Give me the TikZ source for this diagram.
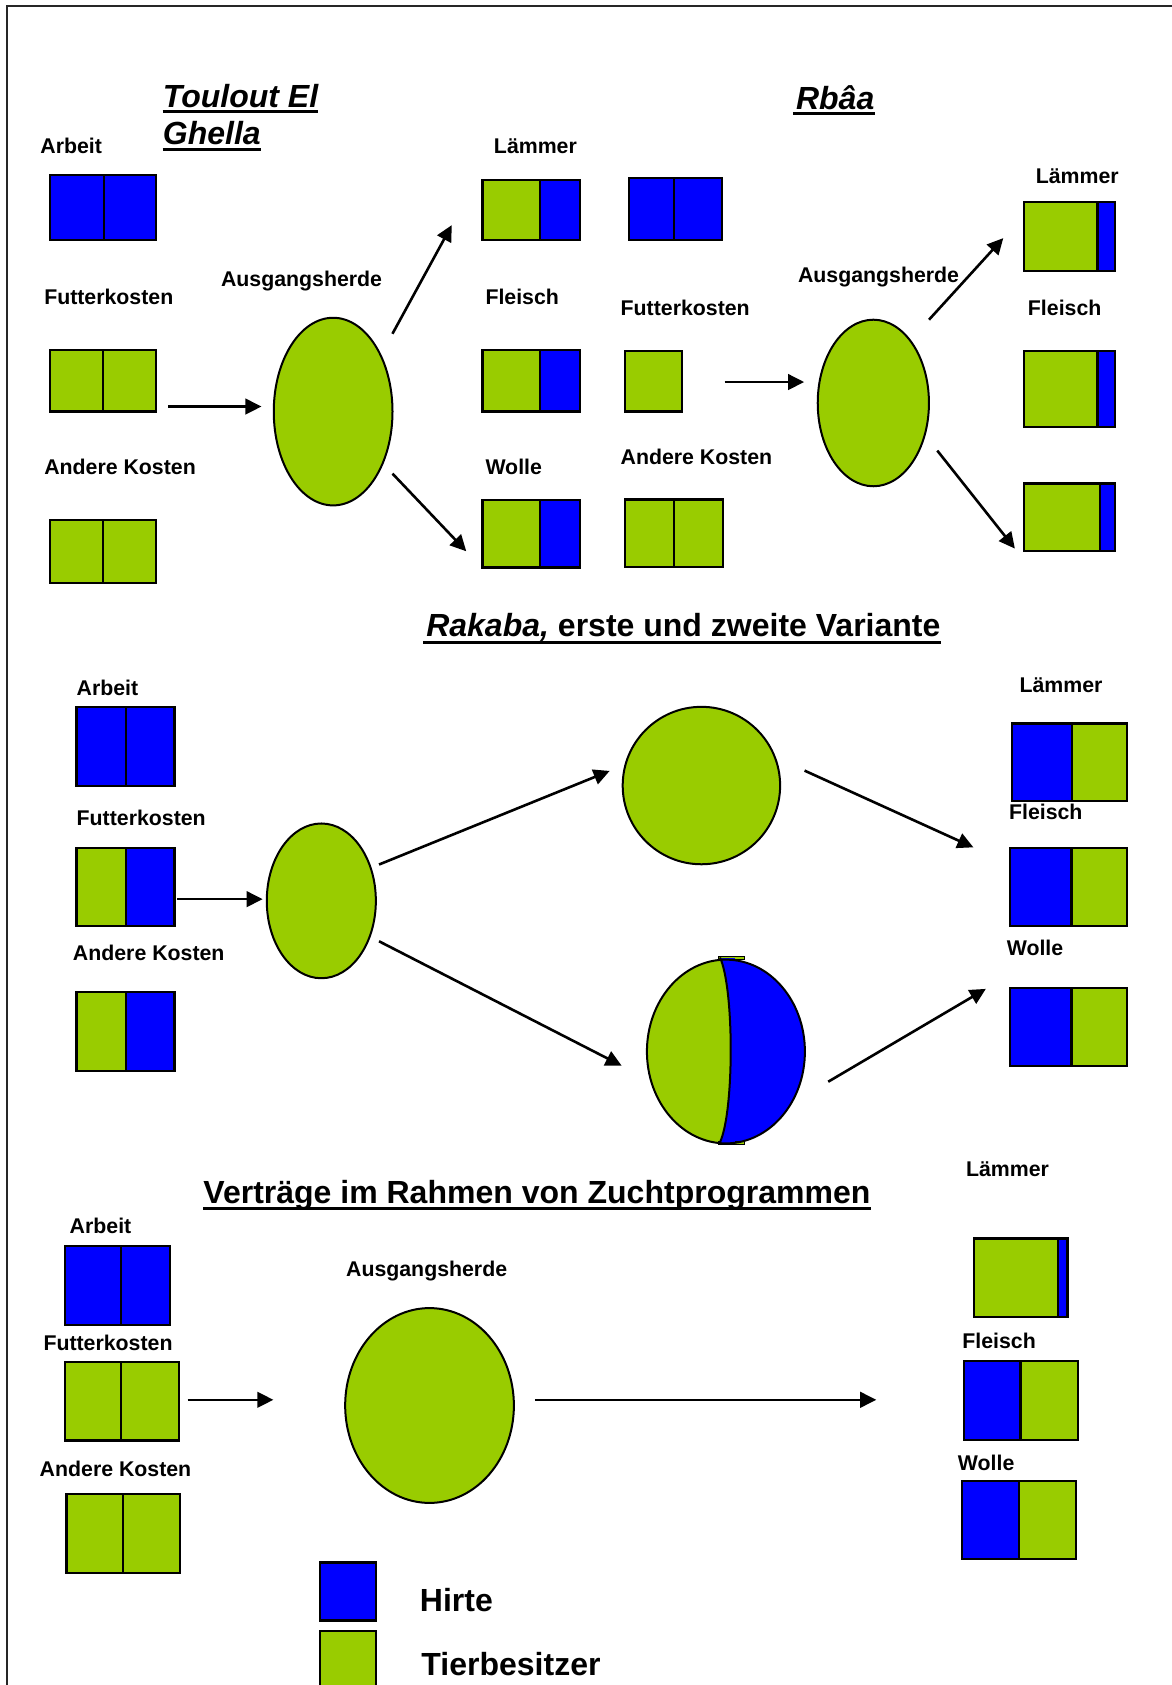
\documentclass[tikz,border=0pt]{standalone}
\usepackage{fontspec}
\setmainfont{Liberation Sans}
\usetikzlibrary{arrows.meta,shapes.geometric,fit}
\definecolor{lime}{HTML}{99CC00}
\definecolor{hblue}{HTML}{0000FF}
\newdimen\uu \uu=1.0743pt
\newcommand\cellbox[6]{\node[cell, fill=#6, fit={(#2,#3) (#4,#5)}] (#1) {};}
\tikzset{
 cell/.style={draw=black, line width=2.2pt, inner sep=0pt, outer sep=0pt},
 lab/.style={font=\fontsize{21.3}{25}\selectfont\bfseries, inner sep=0pt, anchor=base west},
 ttl/.style={font=\fontsize{32}{38}\selectfont\bfseries, inner sep=0pt, anchor=base west},
 blob/.style={ellipse, draw=black, line width=2pt, fill=lime, inner sep=0pt},
 arr/.style={line width=2.6pt, -{Triangle[length=16pt,width=15.5pt]}},
 ul/.style={line width=3pt},
}
\begin{document}
\begin{tikzpicture}[x=1.0743pt,y=-1.0743pt]
\useasboundingbox (0,0) rectangle (1090,1568);
% frame
\draw[line width=2pt, black!85] (6.5,1590) -- (6.5,5.3) -- (1100,5.3);

% ================= Toulout El Ghella =================
\node[ttl, font=\fontsize{32}{38}\selectfont\bfseries\itshape] (t1a) at (151.4,100) {Toulout El};
\node[ttl, font=\fontsize{32}{38}\selectfont\bfseries\itshape] (t1b) at (151.4,134.6) {Ghella};
\draw[ul] ([yshift=-4.5pt]t1a.base west) -- ([yshift=-4.5pt]t1a.base east);
\draw[ul] ([yshift=-4.5pt]t1b.base west) -- ([yshift=-4.5pt]t1b.base east);

\node[lab] (la1) at (37.4,143) {Arbeit};
\node[lab] (lf1) at (41,283) {Futterkosten};
\node[lab] (lk1) at (41,441.8) {Andere Kosten};
\node[lab] (lh1) at (205.5,266.5) {Ausgangsherde};
\node[lab] (ll1) at (459.5,143.2) {Lämmer};
\node[lab] (lm1) at (451.6,283) {Fleisch};
\node[lab] (lw1) at (451.6,441.8) {Wolle};

\cellbox{a1}{46.3}{163.2}{96.9}{223.7}{hblue}
\cellbox{a1r}{96.9}{163.2}{145.3}{223.7}{hblue}
\cellbox{f1}{46.3}{325.6}{96}{383}{lime}
\cellbox{f1r}{96}{325.6}{145.3}{383}{lime}
\cellbox{k1}{46.3}{483.8}{96}{542.2}{lime}
\cellbox{k1r}{96}{483.8}{145.3}{542.2}{lime}
\cellbox{l1}{448.9}{167.4}{502.3}{223.7}{lime}
\cellbox{l1r}{502.3}{167.4}{539.7}{223.7}{hblue}
\cellbox{m1}{448.9}{325.6}{502.3}{383}{lime}
\cellbox{m1r}{502.3}{325.6}{539.7}{383}{hblue}
\cellbox{w1}{448.9}{465.6}{502.3}{528}{lime}
\cellbox{w1r}{502.3}{465.6}{539.7}{528}{hblue}

\node[blob, minimum width=110.5\uu, minimum height=174.6\uu] (e1) at (310,383) {};
\coordinate (p1a) at (156.7,378.3); \coordinate (p1b) at (243.3,378.3);
\coordinate (p1c) at (365.2,310.6); \coordinate (p1d) at (420.4,209.5);
\coordinate (p1e) at (365.2,440.7); \coordinate (p1f) at (433.9,513);
\draw[arr] (p1a) -- (p1b);
\draw[arr] (p1c) -- (p1d);
\draw[arr] (p1e) -- (p1f);

% ================= Rbaa =================
\node[ttl, font=\fontsize{32}{38}\selectfont\bfseries\itshape] (t2) at (740.6,101.5) {Rbâa};
\draw[ul] ([yshift=-4.5pt,xshift=-3pt]t2.base west) -- ([yshift=-4.5pt]t2.base east);

\cellbox{a2}{585.5}{165.7}{627}{223.7}{hblue}
\cellbox{a2r}{627}{165.7}{672}{223.7}{hblue}
\node[lab] (lf2) at (577.4,293.5) {Futterkosten};
\cellbox{f2}{581.3}{326.7}{634.3}{383}{lime}
\node[lab] (lk2) at (577.4,432.1) {Andere Kosten};
\cellbox{k2}{581.3}{464.9}{627}{527.3}{lime}
\cellbox{k2r}{627}{464.9}{672.6}{527.3}{lime}
\node[lab] (lh2) at (742.4,262.5) {Ausgangsherde};
\node[blob, minimum width=103.5\uu, minimum height=155\uu] (e2) at (812.7,375) {};
\node[lab] (ll2) at (963.7,170.3) {Lämmer};
\cellbox{l2}{952.8}{187.7}{1021.3}{252.2}{lime}
\cellbox{l2r}{1021.3}{187.7}{1037.4}{252.2}{hblue}
\node[lab] (lm2) at (956.4,293.5) {Fleisch};
\cellbox{m2}{952.8}{326.7}{1021.3}{397.2}{lime}
\cellbox{m2r}{1021.3}{326.7}{1037.4}{397.2}{hblue}
\cellbox{w2}{952.8}{450}{1023.4}{513}{lime}
\cellbox{w2r}{1023.4}{450}{1037.4}{513}{hblue}
\coordinate (p2a) at (674.3,355.5); \coordinate (p2b) at (748.3,355.5);
\coordinate (p2c) at (864.5,297.5); \coordinate (p2d) at (933.6,221.6);
\coordinate (p2e) at (872.2,419.3); \coordinate (p2f) at (944.4,510.5);
\draw[arr] (p2a) -- (p2b);
\draw[arr] (p2c) -- (p2d);
\draw[arr] (p2e) -- (p2f);

% ================= Rakaba =================
\node[ttl] (t3) at (396.5,592.7) {{\itshape Rakaba,} erste und zweite Variante};
\draw[ul] ([yshift=-5.5pt,xshift=-3pt]t3.base west) -- ([yshift=-5.5pt]t3.base east);

\node[lab] (la3) at (71.2,647.6) {Arbeit};
\cellbox{a3}{71.2}{658.2}{117.6}{731.7}{hblue}
\cellbox{a3r}{117.6}{658.2}{162.4}{731.7}{hblue}
\node[lab] (lf3) at (71.2,768) {Futterkosten};
\cellbox{f3}{71.2}{788.9}{117}{862}{lime}
\cellbox{f3r}{117}{788.9}{162.4}{862}{hblue}
\node[lab] (lk3) at (67.7,893.6) {Andere Kosten};
\cellbox{k3}{71.2}{923.2}{117}{996.7}{lime}
\cellbox{k3r}{117}{923.2}{162.4}{996.7}{hblue}

\node[blob, minimum width=101.5\uu, minimum height=144\uu] (e3) at (299,838.3) {};
\node[blob, circle, minimum size=146.5\uu] (c3) at (652.7,731) {};

% split ellipse
\fill[lime] (675.5,978.5) ellipse [x radius=73.5, y radius=85.5];
\begin{scope}
\clip (675.5,978.5) ellipse [x radius=73.5, y radius=85.5];
\fill[hblue] (670,892) .. controls (683.3,920) and (683.3,1034) .. (670,1062) -- (670,1080) -- (760,1080) -- (760,875) -- (670,875) -- cycle;
\end{scope}
\draw[line width=1pt, fill=lime] (669,890) rectangle (692.5,892.5);
\draw[line width=1pt, fill=lime] (669,1062.5) rectangle (692.5,1065);
\fill[hblue] (671,891.5) -- (684,891.5) -- (684,895) -- (671,895) -- cycle;
\fill[hblue] (671,1062) -- (684,1062) -- (684,1064.5) -- (671,1064.5) -- cycle;
\node[blob, fill=none, minimum width=147\uu, minimum height=171\uu] (s3) at (675.5,978.5) {};
\draw[line width=2pt] (670,891) .. controls (683.3,920) and (683.3,1034) .. (670,1063);

\node[lab] (ll3) at (948.6,644.3) {Lämmer};
\cellbox{l3}{941.6}{673.2}{997.4}{745.6}{hblue}
\cellbox{l3r}{997.4}{673.2}{1049}{745.6}{lime}
\node[lab] (lm3) at (938.8,762.6) {Fleisch};
\cellbox{m3}{940.2}{788.9}{997}{861.7}{hblue}
\cellbox{m3r}{997}{788.9}{1049}{861.7}{lime}
\node[lab] (lw3) at (936.7,889.3) {Wolle};
\cellbox{w3}{940.2}{919.2}{997}{992.3}{hblue}
\cellbox{w3r}{997}{919.2}{1049}{992.3}{lime}

\coordinate (p3a) at (165,836.7); \coordinate (p3b) at (244.4,836.7);
\coordinate (p3c) at (352.7,804.5); \coordinate (p3d) at (567.3,717.4);
\coordinate (p3e) at (352.7,875.9); \coordinate (p3f) at (578.5,991.7);
\coordinate (p3g) at (748.7,717.1); \coordinate (p3h) at (905.8,788.5);
\coordinate (p3i) at (770.7,1006.6); \coordinate (p3j) at (917.4,920.2);
\draw[arr] (p3a) -- (p3b);
\draw[arr] (p3c) -- (p3d);
\draw[arr] (p3e) -- (p3f);
\draw[arr] (p3g) -- (p3h);
\draw[arr] (p3i) -- (p3j);

% ================= Vertraege =================
\node[ttl] (t4) at (189.1,1119.7) {Verträge im Rahmen von Zuchtprogrammen};
\draw[ul] ([yshift=-5.5pt]t4.base west) -- ([yshift=-5.5pt]t4.base east);

\node[lab] (ll4) at (898.8,1095.2) {Lämmer};
\node[lab] (la4) at (64.7,1147.6) {Arbeit};
\cellbox{a4}{60.5}{1159.7}{112.6}{1232.7}{hblue}
\cellbox{a4r}{112.6}{1159.7}{158.5}{1232.7}{hblue}
\node[lab] (lf4) at (40.3,1256.3) {Futterkosten};
\cellbox{f4}{60.5}{1267.3}{112.6}{1340.4}{lime}
\cellbox{f4r}{112.6}{1267.3}{166.2}{1340.4}{lime}
\node[lab] (lk4) at (36.8,1373.7) {Andere Kosten};
\cellbox{k4}{61.9}{1390.6}{114.7}{1463.6}{lime}
\cellbox{k4r}{114.7}{1390.6}{167.5}{1463.6}{lime}

\node[lab] (lh4) at (321.9,1187.4) {Ausgangsherde};
\node[blob, minimum width=157\uu, minimum height=181.3\uu] (e4) at (399.7,1307.9) {};

\cellbox{l4}{906.5}{1152.4}{984.4}{1225.4}{lime}
\cellbox{l4r}{984.4}{1152.4}{993.4}{1225.4}{hblue}
\node[lab] (lm4) at (895.4,1255.3) {Fleisch};
\cellbox{m4}{896.8}{1266.8}{949.6}{1339.8}{hblue}
\cellbox{m4r}{949.6}{1266.8}{1003.1}{1339.8}{lime}
\node[lab] (lw4) at (891.2,1368) {Wolle};
\cellbox{w4}{895.4}{1378}{948.2}{1450.9}{hblue}
\cellbox{w4r}{948.2}{1378}{1001}{1450.9}{lime}

\coordinate (p4a) at (174.5,1302.6); \coordinate (p4b) at (254.4,1302.6);
\coordinate (p4c) at (497.7,1302.6); \coordinate (p4d) at (815.4,1302.6);
\draw[arr] (p4a) -- (p4b);
\draw[arr] (p4c) -- (p4d);

% legend
\cellbox{hb}{298}{1454}{350}{1508}{hblue}
\cellbox{tb}{298}{1518}{350}{1590}{lime}
\node[ttl] (lhirte) at (390.6,1500) {Hirte};
\node[ttl] (ltier) at (392,1559) {Tierbesitzer};
\end{tikzpicture}
\end{document}
